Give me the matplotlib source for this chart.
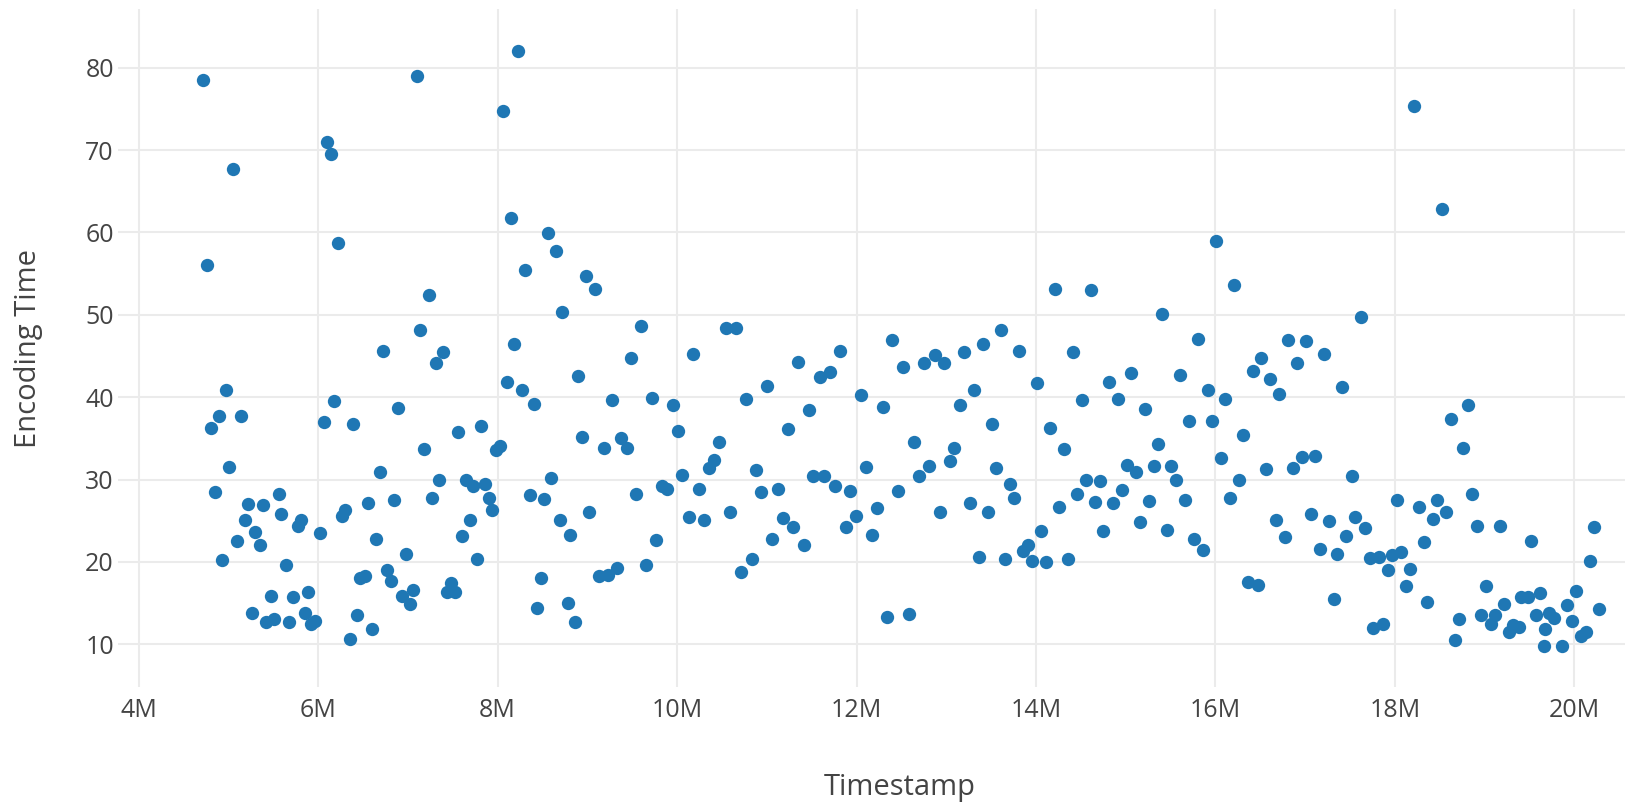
import matplotlib
matplotlib.use("Agg")
import matplotlib.pyplot as plt

# timestamps (millions) and encoding times
timestamp_m = [
    4.72, 5.05, 4.76, 4.97, 4.89, 4.81, 5.14, 5.01, 4.85, 4.93, 5.22, 5.39, 5.56, 5.18, 5.30, 5.10,
    5.35, 5.59, 5.77, 5.81, 5.64, 6.02, 5.47, 5.72, 5.89, 5.26, 5.42, 5.51, 5.68, 5.85, 5.92, 5.97,
    6.10, 6.14, 6.22, 6.72, 6.18, 6.06, 6.39, 6.69, 6.30, 6.26, 6.56, 6.64, 6.47, 6.52, 6.43, 6.60,
    6.35,
    7.10, 8.23, 8.06, 8.15, 8.56, 8.65, 8.31, 8.98, 9.08, 8.72, 7.23, 7.14, 7.39, 7.31, 9.60, 9.49,
    8.18, 8.10, 8.27, 8.40, 8.90, 9.27, 9.72, 6.89, 7.56, 7.81, 7.18, 7.98, 8.03, 8.94, 9.18, 9.38,
    9.44, 7.35, 7.65, 7.73, 7.86, 7.90, 7.94, 6.85, 7.27, 7.69, 7.60, 7.77, 6.98, 6.77, 6.81, 6.93,
    7.06, 7.02, 7.48, 7.44, 7.52, 8.60, 8.36, 8.52, 8.69, 8.81, 9.02, 9.54, 9.65, 9.33, 9.23, 9.13,
    8.48, 8.44, 8.78, 8.86,
    10.54, 10.66, 10.18, 12.40, 11.82, 11.35, 11.70, 11.59, 12.52, 9.95, 10.77, 11.00, 12.05, 12.29,
    11.47, 10.01, 11.24, 10.47, 10.41, 10.36, 12.64, 12.11, 12.70, 10.06, 10.88, 9.83, 9.89, 10.24,
    10.94, 11.12, 11.52, 11.64, 11.76, 11.93, 12.46, 12.23, 10.13, 10.30, 10.59, 11.18, 11.29, 11.99,
    11.88, 12.17, 11.06, 11.41, 9.77, 10.83, 10.71, 12.34, 12.58,
    14.21, 14.61, 15.41, 13.61, 13.41, 13.20, 13.81, 14.41, 12.87, 12.75, 12.98, 13.31, 13.15, 14.01,
    14.81, 15.06, 15.61, 14.51, 14.91, 15.21, 15.71, 13.51, 14.16, 14.31, 15.36, 13.09, 13.04, 12.81,
    13.56, 13.71, 13.76, 15.01, 15.11, 15.31, 15.51, 15.56, 14.56, 14.71, 14.46, 14.96, 14.66, 14.86,
    15.26, 15.66, 13.26, 12.93, 13.46, 14.26, 14.06, 14.75, 15.16, 15.46, 13.36, 13.66, 13.86, 13.91,
    13.96, 14.11, 14.36,
    18.21, 16.01, 16.21, 17.62, 15.81, 16.81, 17.01, 16.51, 16.42, 16.61, 16.91, 17.21, 16.71, 17.41,
    15.92, 16.11, 15.96, 16.31, 16.06, 16.26, 16.16, 16.56, 16.87, 16.97, 17.11, 17.52, 16.67, 16.77,
    17.07, 17.27, 17.56, 17.67, 17.46, 17.17, 17.36, 15.76, 15.86, 18.02, 18.27, 18.47, 18.42, 18.32,
    17.72, 17.82, 17.97, 18.07, 17.92, 18.17, 18.12, 18.36, 16.36, 16.47, 17.32, 17.76, 17.87,
    18.52, 18.82, 18.62, 18.76, 18.86, 18.57, 18.92, 19.17, 19.52, 20.22, 20.17, 19.02, 18.72, 18.67,
    18.96, 19.07, 19.12, 19.22, 19.27, 19.32, 19.38, 19.41, 19.48, 19.62, 19.57, 19.67, 19.72, 19.77,
    19.66, 19.86, 19.92, 19.97, 20.02, 20.07, 20.13, 20.27,
]
encoding_time = [
    78.5, 67.75, 56.0, 40.9, 37.7, 36.25, 37.7, 31.5, 28.5, 20.2, 27.0, 26.9, 28.3, 25.1, 23.6, 22.5,
    22.0, 25.8, 24.4, 25.1, 19.65, 23.5, 15.9, 15.75, 16.3, 13.8, 12.75, 13.05, 12.75, 13.8, 12.5, 12.85,
    71.0, 69.5, 58.7, 45.6, 39.5, 37.0, 36.8, 30.9, 26.3, 25.6, 27.1, 22.8, 18.1, 18.35, 13.5, 11.8,
    10.6,
    79.0, 82.0, 74.7, 61.7, 59.9, 57.8, 55.5, 54.7, 53.1, 50.4, 52.4, 48.2, 45.5, 44.2, 48.6, 44.8,
    46.4, 41.9, 40.9, 39.2, 42.6, 39.7, 39.9, 38.7, 35.8, 36.5, 33.7, 33.55, 34.1, 35.2, 33.8, 35.0,
    33.8, 29.9, 30.0, 29.25, 29.4, 27.8, 26.3, 27.5, 27.7, 25.1, 23.2, 20.3, 20.95, 19.0, 17.7, 15.9,
    16.6, 14.9, 17.4, 16.3, 16.3, 30.2, 28.1, 27.6, 25.1, 23.3, 26.1, 28.2, 19.65, 19.3, 18.45, 18.35,
    18.0, 14.35, 15.0, 12.75,
    48.45, 48.35, 45.2, 46.9, 45.6, 44.3, 43.1, 42.5, 43.7, 39.1, 39.8, 41.4, 40.3, 38.8,
    38.5, 35.9, 36.1, 34.6, 32.4, 31.4, 34.5, 31.5, 30.4, 30.6, 31.1, 29.25, 28.9, 28.8,
    28.5, 28.9, 30.4, 30.4, 29.2, 28.6, 28.6, 26.5, 25.5, 25.1, 26.0, 25.35, 24.2, 25.6,
    24.2, 23.3, 22.8, 22.0, 22.6, 20.3, 18.8, 13.3, 13.7,
    53.1, 53.0, 50.1, 48.1, 46.4, 45.5, 45.6, 45.5, 45.1, 44.1, 44.1, 40.9, 39.1, 41.7,
    41.9, 42.95, 42.7, 39.6, 39.8, 38.6, 37.1, 36.7, 36.3, 33.7, 34.3, 33.8, 32.2, 31.7,
    31.4, 29.5, 27.8, 31.8, 30.95, 31.7, 31.6, 29.9, 29.9, 29.8, 28.3, 28.7, 27.3, 27.1,
    27.4, 27.5, 27.1, 26.0, 26.0, 26.65, 23.8, 23.7, 24.8, 23.9, 20.6, 20.4, 21.3, 22.0,
    20.1, 20.0, 20.4,
    75.4, 59.0, 53.6, 49.7, 47.1, 47.0, 46.8, 44.8, 43.2, 42.2, 44.1, 45.3, 40.4, 41.2,
    40.9, 39.8, 37.1, 35.4, 32.6, 29.9, 27.8, 31.3, 31.4, 32.7, 32.9, 30.4, 25.1, 23.0,
    25.8, 25.0, 25.4, 24.1, 23.2, 21.6, 21.0, 22.8, 21.5, 27.5, 26.65, 27.5, 25.2, 22.4,
    20.5, 20.6, 20.8, 21.2, 19.0, 19.2, 17.05, 15.1, 17.6, 17.2, 15.55, 12.0, 12.5,
    62.8, 39.0, 37.4, 33.8, 28.3, 26.1, 24.4, 24.4, 22.55, 24.2, 20.1, 17.05, 13.05, 10.5,
    13.6, 12.5, 13.6, 14.9, 11.5, 12.3, 12.1, 15.7, 15.7, 16.2, 13.5, 11.86, 13.76, 13.2,
    9.83, 9.83, 14.8, 12.85, 16.5, 10.95, 11.5, 14.3,
]
x_ticks = [4, 6, 8, 10, 12, 14, 16, 18, 20]
y_ticks = [10, 20, 30, 40, 50, 60, 70, 80]

plt.rcParams['font.family'] = ['Open Sans', 'DejaVu Sans']
text_color = '#444444'

fig = plt.figure(figsize=(16.25, 8.05), dpi=100)
# plot area runs past the right edge (the reference is cropped there)
ax = fig.add_axes([118 / 1625, (805 - 686.7) / 805, 1564 / 1625, 677.4 / 805])

ax.scatter(timestamp_m, encoding_time, s=92, color='#1f77b4', linewidths=0, zorder=3)

ax.set_xlim(3.769, 21.2)
ax.set_ylim(4.85, 87.09)
ax.set_xticks(x_ticks)
ax.set_xticklabels([f"{t}M" for t in x_ticks])
ax.set_yticks(y_ticks)
ax.tick_params(axis='both', length=0, labelsize=18, labelcolor=text_color)
ax.tick_params(axis='x', pad=8)
ax.tick_params(axis='y', pad=3)

ax.grid(True, color='#ebebeb', linewidth=1.5)
ax.set_axisbelow(True)
for s in ax.spines.values():
    s.set_visible(False)

ax.set_xlabel("Timestamp", fontsize=21, color=text_color)
ax.xaxis.label.set_va('center')
ax.xaxis.set_label_coords(0.5, -(787 - 686.7) / 677.4)
ax.set_ylabel("Encoding Time", fontsize=21, color=text_color)
ax.yaxis.label.set_va('center')
ax.yaxis.set_label_coords((29 - 118) / 1564, 0.5)

fig.savefig("out.png", dpi=100)
